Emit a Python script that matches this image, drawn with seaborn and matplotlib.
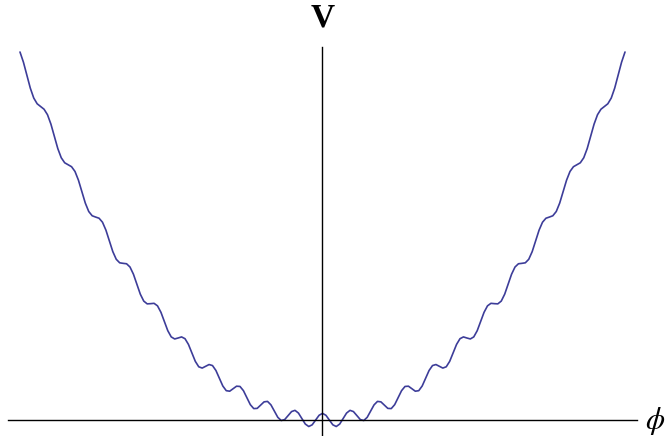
import matplotlib
matplotlib.use('Agg')
import matplotlib.pyplot as plt
import seaborn as sns
import numpy as np

# sample positions along phi (step 1/8)
phi = np.linspace(-11, 11, 177)

# potential, left half (phi = -11 ... -0.125)
v_left = [
    123.33, 119.92, 115.56, 111.24, 107.92, 105.99, 105.06, 104.17,
    102.33, 99.17, 95.06, 90.99, 87.92, 86.24, 85.56, 84.92,
    83.33, 80.42, 76.56, 72.74, 69.92, 68.49, 68.06, 67.67,
    66.33, 63.67, 60.06, 56.49, 53.92, 52.74, 52.56, 52.42,
    51.33, 48.92, 45.56, 42.24, 39.92, 38.99, 39.06, 39.17,
    38.33, 36.17, 33.06, 29.99, 27.92, 27.24, 27.56, 27.92,
    27.33, 25.42, 22.56, 19.74, 17.92, 17.49, 18.06, 18.67,
    18.33, 16.67, 14.06, 11.49, 9.92, 9.74, 10.56, 11.42,
    11.33, 9.92, 7.56, 5.24, 3.92, 3.99, 5.06, 6.17,
    6.33, 5.17, 3.06, 0.99, -0.08, 0.24, 1.56, 2.92,
    3.33, 2.42, 0.56, -1.26, -2.08, -1.51, 0.06, 1.67,
]
v_center = [2.33]
# right half (phi = 0.125 ... 11)
v_right = [
    1.67, 0.06, -1.51, -2.08, -1.26, 0.56, 2.42,
    3.33, 2.92, 1.56, 0.24, -0.08, 0.99, 3.06, 5.17,
    6.33, 6.17, 5.06, 3.99, 3.92, 5.24, 7.56, 9.92,
    11.33, 11.42, 10.56, 9.74, 9.92, 11.49, 14.06, 16.67,
    18.33, 18.67, 18.06, 17.49, 17.92, 19.74, 22.56, 25.42,
    27.33, 27.92, 27.56, 27.24, 27.92, 29.99, 33.06, 36.17,
    38.33, 39.17, 39.06, 38.99, 39.92, 42.24, 45.56, 48.92,
    51.33, 52.42, 52.56, 52.74, 53.92, 56.49, 60.06, 63.67,
    66.33, 67.67, 68.06, 68.49, 69.92, 72.74, 76.56, 80.42,
    83.33, 84.92, 85.56, 86.24, 87.92, 90.99, 95.06, 99.17,
    102.33, 104.17, 105.06, 105.99, 107.92, 111.24, 115.56, 119.92,
    123.33,
]
potential = v_left + v_center + v_right

sns.set_style('white')
plt.rcParams['mathtext.fontset'] = 'stix'
plt.rcParams['font.family'] = ['Liberation Serif', 'DejaVu Serif']

fig = plt.figure(figsize=(6.67, 4.36), dpi=100)
ax = fig.add_axes([0, 0, 1, 1])

sns.lineplot(x=phi, y=potential, ax=ax, color='#3d3d99', linewidth=1.2,
             sort=False, estimator=None)

ax.set_xlim(-11.727, 12.527)
ax.set_ylim(-5.26, 140.75)

# axes through the origin, like Mathematica's default
for side in ['top', 'right']:
    ax.spines[side].set_visible(False)
ax.spines['left'].set_position(('data', 0))
ax.spines['bottom'].set_position(('data', 0))
ax.spines['left'].set_bounds(-5.26, 124.85)
ax.spines['bottom'].set_bounds(-11.44, 11.44)
for side in ['left', 'bottom']:
    ax.spines[side].set_color('black')
    ax.spines[side].set_linewidth(1.0)
ax.set_xticks([])
ax.set_yticks([])
ax.set_xlabel('')
ax.set_ylabel('')

fig.text(322.5 / 667, 1 - 18 / 436, 'V', ha='center', va='center',
         fontsize=24, fontweight='bold', color='black')
fig.text(655 / 667, 1 - 421 / 436, r'$\phi$', ha='center', va='center',
         fontsize=22, color='black')

fig.savefig('out.png', dpi=100)
plt.close(fig)
